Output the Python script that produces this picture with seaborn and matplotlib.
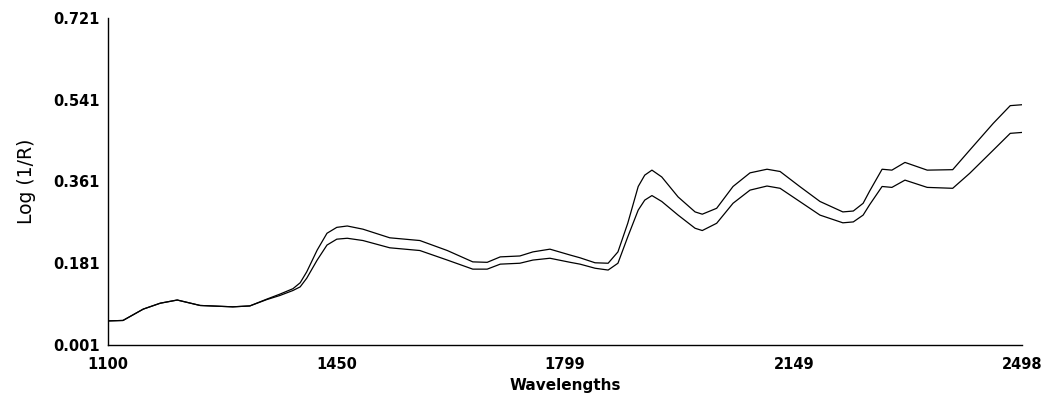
import matplotlib
matplotlib.use("Agg")
import matplotlib.pyplot as plt
import seaborn as sns
import pandas as pd

wavelengths = [1100, 1123, 1154, 1180, 1206, 1241, 1291, 1317, 1343, 1363, 1383, 1394, 1404, 1420,
               1435, 1450, 1466, 1490, 1531, 1577, 1619, 1658, 1680, 1700, 1730, 1750, 1776, 1807,
               1822, 1845, 1865, 1880, 1895, 1911, 1921, 1932, 1947, 1972, 1998, 2009, 2031, 2056,
               2082, 2108, 2128, 2158, 2189, 2224, 2240, 2255, 2265, 2284, 2299, 2319, 2353, 2392,
               2418, 2454, 2480, 2498]
upper = [0.054, 0.055, 0.080, 0.093, 0.100, 0.088, 0.085, 0.087, 0.102, 0.113, 0.125, 0.138, 0.162, 0.210,
         0.247, 0.260, 0.263, 0.256, 0.237, 0.231, 0.209, 0.184, 0.183, 0.195, 0.197, 0.206, 0.212, 0.199,
         0.193, 0.182, 0.181, 0.206, 0.269, 0.350, 0.375, 0.386, 0.371, 0.327, 0.294, 0.289, 0.302, 0.350,
         0.380, 0.388, 0.383, 0.350, 0.317, 0.294, 0.296, 0.313, 0.340, 0.388, 0.386, 0.403, 0.386, 0.387,
         0.430, 0.489, 0.528, 0.530]
lower = [0.054, 0.055, 0.080, 0.093, 0.100, 0.088, 0.085, 0.087, 0.101, 0.110, 0.121, 0.129, 0.148, 0.188,
         0.221, 0.234, 0.236, 0.231, 0.215, 0.209, 0.188, 0.168, 0.168, 0.179, 0.181, 0.188, 0.192, 0.183,
         0.179, 0.170, 0.166, 0.181, 0.239, 0.298, 0.320, 0.330, 0.317, 0.287, 0.258, 0.253, 0.269, 0.313,
         0.342, 0.351, 0.346, 0.317, 0.287, 0.270, 0.272, 0.287, 0.310, 0.350, 0.348, 0.364, 0.348, 0.346,
         0.379, 0.430, 0.467, 0.469]

x_ticks = [1100, 1450, 1799, 2149, 2498]
y_ticks = [0.001, 0.181, 0.361, 0.541, 0.721]

sns.set_theme(style="white")
plt.rcParams['font.family'] = ['DejaVu Sans']
plt.rcParams['text.color'] = 'black'
plt.rcParams['axes.labelcolor'] = 'black'

df = pd.concat([
    pd.DataFrame({"Wavelengths": wavelengths, "value": upper, "series": "upper"}),
    pd.DataFrame({"Wavelengths": wavelengths, "value": lower, "series": "lower"}),
])

fig = plt.figure(figsize=(10.45, 3.98), dpi=100)
ax = fig.add_axes([0.1033, 0.1332, 0.8747, 0.8216])
sns.lineplot(data=df, x="Wavelengths", y="value", hue="series",
             palette={"upper": "black", "lower": "black"}, linewidth=0.9,
             legend=False, ax=ax, sort=False, estimator=None)

ax.set_xlim(1100, 2498)
ax.set_ylim(0.001, 0.721)
ax.set_xticks(x_ticks)
ax.set_xticklabels([str(v) for v in x_ticks], fontsize=10.5, fontweight="bold")
ax.set_yticks(y_ticks)
ax.set_yticklabels([f"{v:.3f}" for v in y_ticks], fontsize=10.5, fontweight="bold")
ax.tick_params(axis="both", direction="in", length=3, width=0.8, colors="black",
               labelcolor="black", pad=6)
ax.tick_params(axis="x", pad=9)
ax.set_xlabel("Wavelengths", fontsize=11, fontweight="bold", labelpad=4, color="black")
ax.set_ylabel("Log (1/R)", fontsize=13.5, labelpad=12, color="black")
for s in ["top", "right"]:
    ax.spines[s].set_visible(False)
for s in ["left", "bottom"]:
    ax.spines[s].set_color("black")
    ax.spines[s].set_linewidth(1.0)

fig.savefig("out.png", dpi=100, facecolor="white")
